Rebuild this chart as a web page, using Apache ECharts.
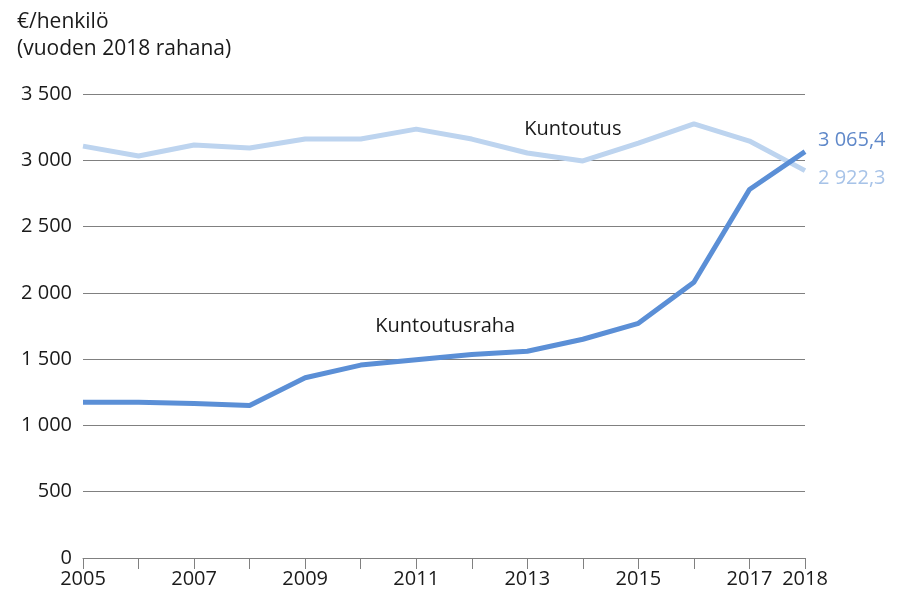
<!DOCTYPE html>
<html lang="fi">
<head>
<meta charset="UTF-8">
<title>Kuntoutus ja kuntoutusraha</title>
<script src="https://cdn.jsdelivr.net/npm/echarts@6/dist/echarts.min.js"></script>
<style>
  body { margin: 0; background: #fff; }
  #chart { width: 897px; height: 601px; }
</style>
</head>
<body>
<div id="chart"></div>
<script>
// vuodet
const years = ['2005','2006','2007','2008','2009','2010','2011','2012','2013','2014','2015','2016','2017','2018'];
// euroa / henkilö, vuoden 2018 rahana
const kuntoutus = [3107, 3032, 3115, 3092, 3160, 3160, 3235, 3160, 3055, 2995, 3130, 3275, 3145, 2922.3];
const kuntoutusraha = [1175, 1175, 1165, 1150, 1360, 1455, 1495, 1535, 1560, 1650, 1770, 2080, 2780, 3065.4];

const FONT = 'Open Sans';
const darkBlue = '#5b8fd6';
const lightBlue = '#bdd4ef';

const fmt = v => {
  const parts = String(v).split('.');
  const int = parts[0].replace(/\B(?=(\d{3})+(?!\d))/g, ' ');
  return parts[1] ? int + ',' + parts[1] : int;
};

const chart = echarts.init(document.getElementById('chart'));

chart.setOption({
  animation: false,
  textStyle: { fontFamily: FONT },
  title: {
    text: '€/henkilö\n(vuoden 2018 rahana)',
    left: 12, top: 4,
    textStyle: { fontFamily: FONT, fontSize: 21, fontWeight: 'normal', color: '#1a1a1a', lineHeight: 27 }
  },
  grid: { left: 83, right: 92, top: 94, bottom: 43 },
  xAxis: {
    type: 'category',
    data: years,
    boundaryGap: false,
    axisLine: { lineStyle: { color: '#808080', width: 1 } },
    axisTick: { show: true, length: 11, interval: 0, lineStyle: { color: '#808080' } },
    axisLabel: {
      interval: (i) => i % 2 === 0 || i === years.length - 1,
      fontFamily: FONT, fontSize: 20, color: '#1a1a1a', margin: 11
    },
    splitLine: { show: false }
  },
  yAxis: {
    type: 'value',
    min: 0, max: 3500, interval: 500,
    axisLine: { show: false },
    axisTick: { show: false },
    axisLabel: {
      formatter: fmt,
      fontFamily: FONT, fontSize: 20, color: '#1a1a1a', margin: 11
    },
    splitLine: { lineStyle: { color: '#808080', width: 1 } }
  },
  series: [
    {
      name: 'Kuntoutus',
      type: 'line',
      data: kuntoutus,
      symbol: 'none',
      lineStyle: { color: lightBlue, width: 5 },
      z: 2,
      endLabel: {
        show: true,
        formatter: p => fmt(p.value),
        fontFamily: FONT, fontSize: 20, color: '#a7c3e8',
        distance: 13,
        offset: [0, 8]
      },
      markPoint: {
        symbol: 'circle', symbolSize: 0,
        data: [{ coord: ['2014', 3200] }],
        label: {
          show: true, formatter: 'Kuntoutus', position: 'inside',
          offset: [-10, -4],
          fontFamily: FONT, fontSize: 20, color: '#1a1a1a'
        }
      }
    },
    {
      name: 'Kuntoutusraha',
      type: 'line',
      data: kuntoutusraha,
      symbol: 'none',
      lineStyle: { color: darkBlue, width: 5 },
      z: 3,
      endLabel: {
        show: true,
        formatter: p => fmt(p.value),
        fontFamily: FONT, fontSize: 20, color: '#5f88c9',
        distance: 13,
        offset: [0, -11]
      },
      markPoint: {
        symbol: 'circle', symbolSize: 0,
        data: [{ coord: ['2011', 1750] }],
        label: {
          show: true, formatter: 'Kuntoutusraha', position: 'inside',
          offset: [29, 0],
          fontFamily: FONT, fontSize: 20, color: '#1a1a1a'
        }
      }
    }
  ]
});
</script>
</body>
</html>
